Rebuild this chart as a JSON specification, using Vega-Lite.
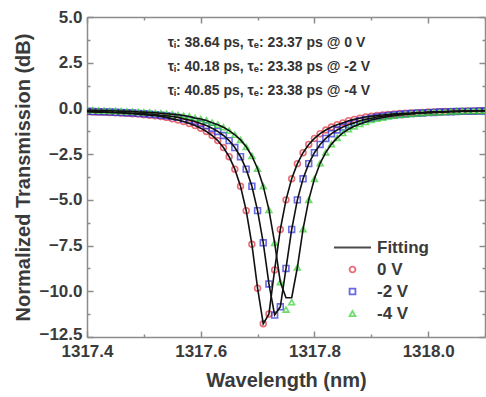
{
  "$schema": "https://vega.github.io/schema/vega-lite/v6.json",
  "width": 398,
  "height": 320,
  "autosize": {"type": "none"},
  "padding": {"left": 87, "top": 17, "right": 1, "bottom": 60},
  "background": "white",
  "config": {
    "view": {"stroke": null},
    "font": "Liberation Sans",
    "axis": {
      "grid": false,
      "domainColor": "#8c8c8c",
      "domainWidth": 1.5,
      "tickColor": "#8c8c8c",
      "tickWidth": 1.5,
      "labelFont": "Liberation Sans",
      "labelFontWeight": "bold",
      "labelFontSize": 17,
      "labelColor": "#3a3a3a",
      "titleFont": "Liberation Sans",
      "titleFontWeight": "bold",
      "titleFontSize": 20,
      "titleColor": "#3a3a3a"
    },
    "legend": {
      "orient": "none",
      "legendX": 246,
      "legendY": 222,
      "labelFont": "Liberation Sans",
      "labelFontWeight": "bold",
      "labelFontSize": 17,
      "labelColor": "#3a3a3a",
      "clipHeight": 17,
      "rowPadding": 4,
      "labelOffset": 5,
      "symbolStrokeWidth": 1.8,
      "padding": 0
    }
  },
  "datasets": {
    "ann": [
      {"label": "τᵢ: 38.64 ps,  τₑ: 23.37 ps @ 0 V", "wl": 1317.542, "db": 3.58},
      {"label": "τᵢ: 40.18 ps,  τₑ: 23.38 ps @ -2 V", "wl": 1317.542, "db": 2.27},
      {"label": "τᵢ: 40.85 ps,  τₑ: 23.38 ps @ -4 V", "wl": 1317.542, "db": 0.95}
    ],
    "d": [
      {"wl":1317.40,"s":"0 V","t":-0.18,"f":-0.18},{"wl":1317.41,"s":"0 V","t":-0.19,"f":-0.19},{"wl":1317.42,"s":"0 V","t":-0.20,"f":-0.20},{"wl":1317.43,"s":"0 V","t":-0.21,"f":-0.21},{"wl":1317.44,"s":"0 V","t":-0.22,"f":-0.22},{"wl":1317.45,"s":"0 V","t":-0.24,"f":-0.24},{"wl":1317.46,"s":"0 V","t":-0.25,"f":-0.25},{"wl":1317.47,"s":"0 V","t":-0.27,"f":-0.27},{"wl":1317.48,"s":"0 V","t":-0.29,"f":-0.29},{"wl":1317.49,"s":"0 V","t":-0.31,"f":-0.31},
      {"wl":1317.50,"s":"0 V","t":-0.34,"f":-0.34},{"wl":1317.51,"s":"0 V","t":-0.37,"f":-0.37},{"wl":1317.52,"s":"0 V","t":-0.40,"f":-0.40},{"wl":1317.53,"s":"0 V","t":-0.44,"f":-0.44},{"wl":1317.54,"s":"0 V","t":-0.49,"f":-0.49},{"wl":1317.55,"s":"0 V","t":-0.57,"f":-0.57},{"wl":1317.56,"s":"0 V","t":-0.63,"f":-0.63},{"wl":1317.57,"s":"0 V","t":-0.71,"f":-0.71},{"wl":1317.58,"s":"0 V","t":-0.83,"f":-0.83},{"wl":1317.59,"s":"0 V","t":-0.94,"f":-0.94},
      {"wl":1317.60,"s":"0 V","t":-1.08,"f":-1.08},{"wl":1317.61,"s":"0 V","t":-1.26,"f":-1.26},{"wl":1317.62,"s":"0 V","t":-1.48,"f":-1.48},{"wl":1317.63,"s":"0 V","t":-1.76,"f":-1.76},{"wl":1317.64,"s":"0 V","t":-2.14,"f":-2.14},{"wl":1317.65,"s":"0 V","t":-2.64,"f":-2.64},{"wl":1317.66,"s":"0 V","t":-3.32,"f":-3.32},{"wl":1317.67,"s":"0 V","t":-4.26,"f":-4.26},{"wl":1317.68,"s":"0 V","t":-5.59,"f":-5.59},{"wl":1317.69,"s":"0 V","t":-7.43,"f":-7.43},
      {"wl":1317.70,"s":"0 V","t":-9.83,"f":-9.83},{"wl":1317.71,"s":"0 V","t":-11.78,"f":-11.78},{"wl":1317.72,"s":"0 V","t":-11.24,"f":-11.24},{"wl":1317.73,"s":"0 V","t":-8.83,"f":-8.83},{"wl":1317.74,"s":"0 V","t":-6.62,"f":-6.62},{"wl":1317.75,"s":"0 V","t":-5.00,"f":-5.00},{"wl":1317.76,"s":"0 V","t":-3.85,"f":-3.85},{"wl":1317.77,"s":"0 V","t":-3.02,"f":-3.02},{"wl":1317.78,"s":"0 V","t":-2.42,"f":-2.42},{"wl":1317.79,"s":"0 V","t":-1.97,"f":-1.97},
      {"wl":1317.80,"s":"0 V","t":-1.64,"f":-1.64},{"wl":1317.81,"s":"0 V","t":-1.38,"f":-1.38},{"wl":1317.82,"s":"0 V","t":-1.18,"f":-1.18},{"wl":1317.83,"s":"0 V","t":-1.02,"f":-1.02},{"wl":1317.84,"s":"0 V","t":-0.89,"f":-0.89},{"wl":1317.85,"s":"0 V","t":-0.79,"f":-0.79},{"wl":1317.86,"s":"0 V","t":-0.67,"f":-0.67},{"wl":1317.87,"s":"0 V","t":-0.60,"f":-0.60},{"wl":1317.88,"s":"0 V","t":-0.54,"f":-0.54},{"wl":1317.89,"s":"0 V","t":-0.47,"f":-0.47},
      {"wl":1317.90,"s":"0 V","t":-0.43,"f":-0.43},{"wl":1317.91,"s":"0 V","t":-0.39,"f":-0.39},{"wl":1317.92,"s":"0 V","t":-0.36,"f":-0.36},{"wl":1317.93,"s":"0 V","t":-0.33,"f":-0.33},{"wl":1317.94,"s":"0 V","t":-0.30,"f":-0.30},{"wl":1317.95,"s":"0 V","t":-0.28,"f":-0.28},{"wl":1317.96,"s":"0 V","t":-0.26,"f":-0.26},{"wl":1317.97,"s":"0 V","t":-0.25,"f":-0.25},{"wl":1317.98,"s":"0 V","t":-0.23,"f":-0.23},{"wl":1317.99,"s":"0 V","t":-0.22,"f":-0.22},
      {"wl":1318.00,"s":"0 V","t":-0.20,"f":-0.20},{"wl":1318.01,"s":"0 V","t":-0.19,"f":-0.19},{"wl":1318.02,"s":"0 V","t":-0.18,"f":-0.18},{"wl":1318.03,"s":"0 V","t":-0.17,"f":-0.17},{"wl":1318.04,"s":"0 V","t":-0.16,"f":-0.16},{"wl":1318.05,"s":"0 V","t":-0.16,"f":-0.16},{"wl":1318.06,"s":"0 V","t":-0.15,"f":-0.15},{"wl":1318.07,"s":"0 V","t":-0.14,"f":-0.14},{"wl":1318.08,"s":"0 V","t":-0.14,"f":-0.14},{"wl":1318.09,"s":"0 V","t":-0.13,"f":-0.13},{"wl":1318.10,"s":"0 V","t":-0.13,"f":-0.13},

      {"wl":1317.40,"s":"-2 V","t":-0.16,"f":-0.16},{"wl":1317.41,"s":"-2 V","t":-0.17,"f":-0.17},{"wl":1317.42,"s":"-2 V","t":-0.18,"f":-0.18},{"wl":1317.43,"s":"-2 V","t":-0.19,"f":-0.19},{"wl":1317.44,"s":"-2 V","t":-0.20,"f":-0.20},{"wl":1317.45,"s":"-2 V","t":-0.21,"f":-0.21},{"wl":1317.46,"s":"-2 V","t":-0.22,"f":-0.22},{"wl":1317.47,"s":"-2 V","t":-0.24,"f":-0.24},{"wl":1317.48,"s":"-2 V","t":-0.25,"f":-0.25},{"wl":1317.49,"s":"-2 V","t":-0.27,"f":-0.27},
      {"wl":1317.50,"s":"-2 V","t":-0.29,"f":-0.29},{"wl":1317.51,"s":"-2 V","t":-0.31,"f":-0.31},{"wl":1317.52,"s":"-2 V","t":-0.34,"f":-0.34},{"wl":1317.53,"s":"-2 V","t":-0.37,"f":-0.37},{"wl":1317.54,"s":"-2 V","t":-0.40,"f":-0.40},{"wl":1317.55,"s":"-2 V","t":-0.44,"f":-0.44},{"wl":1317.56,"s":"-2 V","t":-0.49,"f":-0.49},{"wl":1317.57,"s":"-2 V","t":-0.57,"f":-0.57},{"wl":1317.58,"s":"-2 V","t":-0.63,"f":-0.63},{"wl":1317.59,"s":"-2 V","t":-0.71,"f":-0.71},
      {"wl":1317.60,"s":"-2 V","t":-0.83,"f":-0.83},{"wl":1317.61,"s":"-2 V","t":-0.94,"f":-0.94},{"wl":1317.62,"s":"-2 V","t":-1.08,"f":-1.08},{"wl":1317.63,"s":"-2 V","t":-1.26,"f":-1.26},{"wl":1317.64,"s":"-2 V","t":-1.48,"f":-1.48},{"wl":1317.65,"s":"-2 V","t":-1.76,"f":-1.76},{"wl":1317.66,"s":"-2 V","t":-2.14,"f":-2.14},{"wl":1317.67,"s":"-2 V","t":-2.64,"f":-2.64},{"wl":1317.68,"s":"-2 V","t":-3.32,"f":-3.32},{"wl":1317.69,"s":"-2 V","t":-4.26,"f":-4.26},
      {"wl":1317.70,"s":"-2 V","t":-5.59,"f":-5.59},{"wl":1317.71,"s":"-2 V","t":-7.35,"f":-7.35},{"wl":1317.72,"s":"-2 V","t":-9.60,"f":-9.60},{"wl":1317.73,"s":"-2 V","t":-11.30,"f":-11.30},{"wl":1317.74,"s":"-2 V","t":-10.85,"f":-10.85},{"wl":1317.75,"s":"-2 V","t":-8.75,"f":-8.75},{"wl":1317.76,"s":"-2 V","t":-6.62,"f":-6.62},{"wl":1317.77,"s":"-2 V","t":-5.00,"f":-5.00},{"wl":1317.78,"s":"-2 V","t":-3.85,"f":-3.85},{"wl":1317.79,"s":"-2 V","t":-3.02,"f":-3.02},
      {"wl":1317.80,"s":"-2 V","t":-2.42,"f":-2.42},{"wl":1317.81,"s":"-2 V","t":-1.97,"f":-1.97},{"wl":1317.82,"s":"-2 V","t":-1.64,"f":-1.64},{"wl":1317.83,"s":"-2 V","t":-1.38,"f":-1.38},{"wl":1317.84,"s":"-2 V","t":-1.18,"f":-1.18},{"wl":1317.85,"s":"-2 V","t":-1.02,"f":-1.02},{"wl":1317.86,"s":"-2 V","t":-0.89,"f":-0.89},{"wl":1317.87,"s":"-2 V","t":-0.79,"f":-0.79},{"wl":1317.88,"s":"-2 V","t":-0.67,"f":-0.67},{"wl":1317.89,"s":"-2 V","t":-0.60,"f":-0.60},
      {"wl":1317.90,"s":"-2 V","t":-0.54,"f":-0.54},{"wl":1317.91,"s":"-2 V","t":-0.47,"f":-0.47},{"wl":1317.92,"s":"-2 V","t":-0.43,"f":-0.43},{"wl":1317.93,"s":"-2 V","t":-0.39,"f":-0.39},{"wl":1317.94,"s":"-2 V","t":-0.36,"f":-0.36},{"wl":1317.95,"s":"-2 V","t":-0.33,"f":-0.33},{"wl":1317.96,"s":"-2 V","t":-0.30,"f":-0.30},{"wl":1317.97,"s":"-2 V","t":-0.28,"f":-0.28},{"wl":1317.98,"s":"-2 V","t":-0.26,"f":-0.26},{"wl":1317.99,"s":"-2 V","t":-0.25,"f":-0.25},
      {"wl":1318.00,"s":"-2 V","t":-0.23,"f":-0.23},{"wl":1318.01,"s":"-2 V","t":-0.22,"f":-0.22},{"wl":1318.02,"s":"-2 V","t":-0.20,"f":-0.20},{"wl":1318.03,"s":"-2 V","t":-0.19,"f":-0.19},{"wl":1318.04,"s":"-2 V","t":-0.18,"f":-0.18},{"wl":1318.05,"s":"-2 V","t":-0.17,"f":-0.17},{"wl":1318.06,"s":"-2 V","t":-0.16,"f":-0.16},{"wl":1318.07,"s":"-2 V","t":-0.16,"f":-0.16},{"wl":1318.08,"s":"-2 V","t":-0.15,"f":-0.15},{"wl":1318.09,"s":"-2 V","t":-0.14,"f":-0.14},{"wl":1318.10,"s":"-2 V","t":-0.14,"f":-0.14},

      {"wl":1317.40,"s":"-4 V","t":-0.10,"f":-0.10},{"wl":1317.41,"s":"-4 V","t":-0.10,"f":-0.10},{"wl":1317.42,"s":"-4 V","t":-0.11,"f":-0.11},{"wl":1317.43,"s":"-4 V","t":-0.12,"f":-0.12},{"wl":1317.44,"s":"-4 V","t":-0.13,"f":-0.13},{"wl":1317.45,"s":"-4 V","t":-0.14,"f":-0.14},{"wl":1317.46,"s":"-4 V","t":-0.15,"f":-0.15},{"wl":1317.47,"s":"-4 V","t":-0.16,"f":-0.16},{"wl":1317.48,"s":"-4 V","t":-0.17,"f":-0.17},{"wl":1317.49,"s":"-4 V","t":-0.19,"f":-0.19},
      {"wl":1317.50,"s":"-4 V","t":-0.20,"f":-0.20},{"wl":1317.51,"s":"-4 V","t":-0.22,"f":-0.22},{"wl":1317.52,"s":"-4 V","t":-0.24,"f":-0.24},{"wl":1317.53,"s":"-4 V","t":-0.26,"f":-0.26},{"wl":1317.54,"s":"-4 V","t":-0.29,"f":-0.29},{"wl":1317.55,"s":"-4 V","t":-0.32,"f":-0.32},{"wl":1317.56,"s":"-4 V","t":-0.35,"f":-0.35},{"wl":1317.57,"s":"-4 V","t":-0.39,"f":-0.39},{"wl":1317.58,"s":"-4 V","t":-0.44,"f":-0.44},{"wl":1317.59,"s":"-4 V","t":-0.52,"f":-0.52},
      {"wl":1317.60,"s":"-4 V","t":-0.58,"f":-0.58},{"wl":1317.61,"s":"-4 V","t":-0.66,"f":-0.66},{"wl":1317.62,"s":"-4 V","t":-0.78,"f":-0.78},{"wl":1317.63,"s":"-4 V","t":-0.89,"f":-0.89},{"wl":1317.64,"s":"-4 V","t":-1.03,"f":-1.03},{"wl":1317.65,"s":"-4 V","t":-1.21,"f":-1.21},{"wl":1317.66,"s":"-4 V","t":-1.44,"f":-1.44},{"wl":1317.67,"s":"-4 V","t":-1.72,"f":-1.72},{"wl":1317.68,"s":"-4 V","t":-2.10,"f":-2.10},{"wl":1317.69,"s":"-4 V","t":-2.60,"f":-2.60},
      {"wl":1317.70,"s":"-4 V","t":-3.30,"f":-3.30},{"wl":1317.71,"s":"-4 V","t":-4.25,"f":-4.25},{"wl":1317.72,"s":"-4 V","t":-5.55,"f":-5.55},{"wl":1317.73,"s":"-4 V","t":-7.35,"f":-7.35},{"wl":1317.74,"s":"-4 V","t":-9.50,"f":-9.50},{"wl":1317.75,"s":"-4 V","t":-11.00,"f":-10.35},{"wl":1317.76,"s":"-4 V","t":-10.60,"f":-10.35},{"wl":1317.77,"s":"-4 V","t":-8.70,"f":-8.70},{"wl":1317.78,"s":"-4 V","t":-6.60,"f":-6.60},{"wl":1317.79,"s":"-4 V","t":-5.00,"f":-5.00},
      {"wl":1317.80,"s":"-4 V","t":-3.85,"f":-3.85},{"wl":1317.81,"s":"-4 V","t":-3.00,"f":-3.00},{"wl":1317.82,"s":"-4 V","t":-2.40,"f":-2.40},{"wl":1317.83,"s":"-4 V","t":-1.95,"f":-1.95},{"wl":1317.84,"s":"-4 V","t":-1.61,"f":-1.61},{"wl":1317.85,"s":"-4 V","t":-1.34,"f":-1.34},{"wl":1317.86,"s":"-4 V","t":-1.14,"f":-1.14},{"wl":1317.87,"s":"-4 V","t":-0.98,"f":-0.98},{"wl":1317.88,"s":"-4 V","t":-0.85,"f":-0.85},{"wl":1317.89,"s":"-4 V","t":-0.74,"f":-0.74},
      {"wl":1317.90,"s":"-4 V","t":-0.63,"f":-0.63},{"wl":1317.91,"s":"-4 V","t":-0.56,"f":-0.56},{"wl":1317.92,"s":"-4 V","t":-0.50,"f":-0.50},{"wl":1317.93,"s":"-4 V","t":-0.44,"f":-0.44},{"wl":1317.94,"s":"-4 V","t":-0.40,"f":-0.40},{"wl":1317.95,"s":"-4 V","t":-0.36,"f":-0.36},{"wl":1317.96,"s":"-4 V","t":-0.33,"f":-0.33},{"wl":1317.97,"s":"-4 V","t":-0.30,"f":-0.30},{"wl":1317.98,"s":"-4 V","t":-0.27,"f":-0.27},{"wl":1317.99,"s":"-4 V","t":-0.25,"f":-0.25},
      {"wl":1318.00,"s":"-4 V","t":-0.23,"f":-0.23},{"wl":1318.01,"s":"-4 V","t":-0.22,"f":-0.22},{"wl":1318.02,"s":"-4 V","t":-0.20,"f":-0.20},{"wl":1318.03,"s":"-4 V","t":-0.19,"f":-0.19},{"wl":1318.04,"s":"-4 V","t":-0.17,"f":-0.17},{"wl":1318.05,"s":"-4 V","t":-0.16,"f":-0.16},{"wl":1318.06,"s":"-4 V","t":-0.15,"f":-0.15},{"wl":1318.07,"s":"-4 V","t":-0.14,"f":-0.14},{"wl":1318.08,"s":"-4 V","t":-0.13,"f":-0.13},{"wl":1318.09,"s":"-4 V","t":-0.13,"f":-0.13},{"wl":1318.10,"s":"-4 V","t":-0.12,"f":-0.12}
    ]
  },
  "layer": [
    {
      "data": {"name": "d"},
      "mark": {"type": "point", "filled": false, "strokeWidth": 1.6, "clip": true},
      "encoding": {
        "x": {
          "field": "wl", "type": "quantitative",
          "scale": {"domain": [1317.4, 1318.1], "nice": false, "zero": false},
          "axis": {
            "orient": "bottom",
            "title": "Wavelength (nm)",
            "values": [1317.4, 1317.5, 1317.6, 1317.7, 1317.8, 1317.9, 1318.0, 1318.1],
            "labelExpr": "round(datum.value*10) % 2 == 0 ? format(datum.value, '.1f') : ''",
            "tickSize": {"condition": {"test": "round(datum.value*10) % 2 == 0", "value": -6}, "value": -3},
            "labelPadding": 12,
            "titlePadding": 8,
            "labelFlush": false,
            "labelOverlap": false
          }
        },
        "y": {
          "field": "t", "type": "quantitative",
          "scale": {"domain": [-12.5, 5], "nice": false, "zero": false},
          "axis": {
            "orient": "left",
            "title": "Normalized Transmission (dB)",
            "values": [-12.5, -11.25, -10, -8.75, -7.5, -6.25, -5, -3.75, -2.5, -1.25, 0, 1.25, 2.5, 3.75, 5],
            "labelExpr": "round(datum.value/1.25) % 2 == 0 ? format(datum.value, '.1f') : ''",
            "tickSize": {"condition": {"test": "round(datum.value/1.25) % 2 == 0", "value": -6}, "value": -3},
            "labelOffset": {"condition": {"test": "datum.value < -12", "value": -3}, "value": 0},
            "labelPadding": 11,
            "titlePadding": 5,
            "labelFlush": false,
            "labelOverlap": false
          }
        },
        "color": {
          "field": "s", "type": "nominal",
          "scale": {"domain": ["Fitting", "0 V", "-2 V", "-4 V"], "range": ["#000000", "#e0303e", "#2b2bd8", "#30cf30"]},
          "legend": {"title": null}
        },
        "shape": {
          "field": "s", "type": "nominal",
          "scale": {"domain": ["Fitting", "0 V", "-2 V", "-4 V"], "range": ["stroke", "circle", "square", "triangle-up"]},
          "legend": {"title": null}
        },
        "size": {
          "field": "s", "type": "nominal",
          "scale": {"type": "ordinal", "domain": ["Fitting", "0 V", "-2 V", "-4 V"], "range": [1369, 34, 34, 34]},
          "legend": {"title": null}
        }
      }
    },
    {
      "data": {"name": "d"},
      "mark": {"type": "line", "color": "#111111", "strokeWidth": 1.6, "clip": true},
      "encoding": {
        "x": {
          "field": "wl", "type": "quantitative",
          "axis": {
            "orient": "top",
            "title": null,
            "labels": false,
            "values": [1317.4, 1317.5, 1317.6, 1317.7, 1317.8, 1317.9, 1318.0, 1318.1],
            "tickSize": {"condition": {"test": "round(datum.value*10) % 2 == 0", "value": -6}, "value": -3}
          }
        },
        "y": {
          "field": "f", "type": "quantitative",
          "axis": {
            "orient": "right",
            "title": null,
            "labels": false,
            "values": [-12.5, -11.25, -10, -8.75, -7.5, -6.25, -5, -3.75, -2.5, -1.25, 0, 1.25, 2.5, 3.75, 5],
            "tickSize": {"condition": {"test": "round(datum.value/1.25) % 2 == 0", "value": -6}, "value": -3}
          }
        },
        "detail": {"field": "s", "type": "nominal"}
      }
    },
    {
      "data": {"name": "ann"},
      "mark": {"type": "text", "align": "left", "baseline": "middle", "font": "Liberation Sans", "fontWeight": "bold", "fontSize": 14, "color": "#333333"},
      "encoding": {
        "x": {"field": "wl", "type": "quantitative", "axis": null},
        "y": {"field": "db", "type": "quantitative", "axis": null},
        "text": {"field": "label"}
      }
    }
  ],
  "resolve": {"axis": {"x": "independent", "y": "independent"}}
}
